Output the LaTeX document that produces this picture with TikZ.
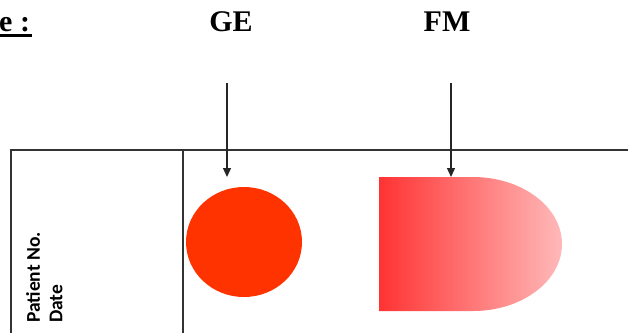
\documentclass[tikz,border=0pt]{standalone}
\usepackage{fontspec}
\setmainfont{Liberation Serif}
\newfontfamily\calib{Carlito}
\usetikzlibrary{arrows.meta}
\definecolor{lineg}{HTML}{333333}
\definecolor{geRed}{HTML}{FF3300}
\definecolor{fmLeft}{HTML}{FF3333}
\definecolor{fmRight}{HTML}{FFB9B9}
\tikzset{
  title/.style={font=\bfseries\fontsize{30}{34}\selectfont, inner sep=0pt, anchor=base},
  tableline/.style={draw=lineg, line width=1.5pt},
  pointer/.style={draw=black!85, line width=1.3pt, -{Triangle[length=9pt,width=8pt]}},
}
\begin{document}
\begin{tikzpicture}[x=1pt,y=-1pt]
\useasboundingbox (0,0) rectangle (628,332);
% cropped heading
\node[title, anchor=base west] (head) at (-1,31) {e :};
\draw[line width=3pt] (0,35) -- (32,35);
% labels
\node[title] (ge) at (231,31) {GE};
\node[title] (fm) at (447,31) {FM};
% table
\draw[tableline] (628,150) -- (11,150) -- (11,333);
\draw[tableline] (183,150) -- (183,333);
% shapes
\path[fill=geRed] (244,242) ellipse [x radius=58pt, y radius=55pt];
\node[inner sep=0pt, minimum width=116pt, minimum height=110pt] (gecirc) at (244,242) {};
\shade[left color=fmLeft, right color=fmRight, shading angle=90]
  (379,177) -- (473,177) arc[start angle=90, end angle=-90, x radius=89pt, y radius=67pt] -- (379,311) -- cycle;
\node[inner sep=0pt, minimum width=183pt, minimum height=134pt] (fmshape) at (470.5,244) {};
% arrows
\coordinate (geTop) at (227,83);
\coordinate (geEnd) at (227,177);
\coordinate (fmTop) at (451,83);
\coordinate (fmEnd) at (451,177);
\draw[pointer] (geTop) -- (geEnd);
\draw[pointer] (fmTop) -- (fmEnd);
% rotated text
\node[rotate=90, anchor=north west, align=left, inner sep=0pt,
      font=\calib\bfseries\fontsize{19.5}{22.5}\selectfont] (pat) at (26,323) {Patient No.\\Date};
\end{tikzpicture}
\end{document}
